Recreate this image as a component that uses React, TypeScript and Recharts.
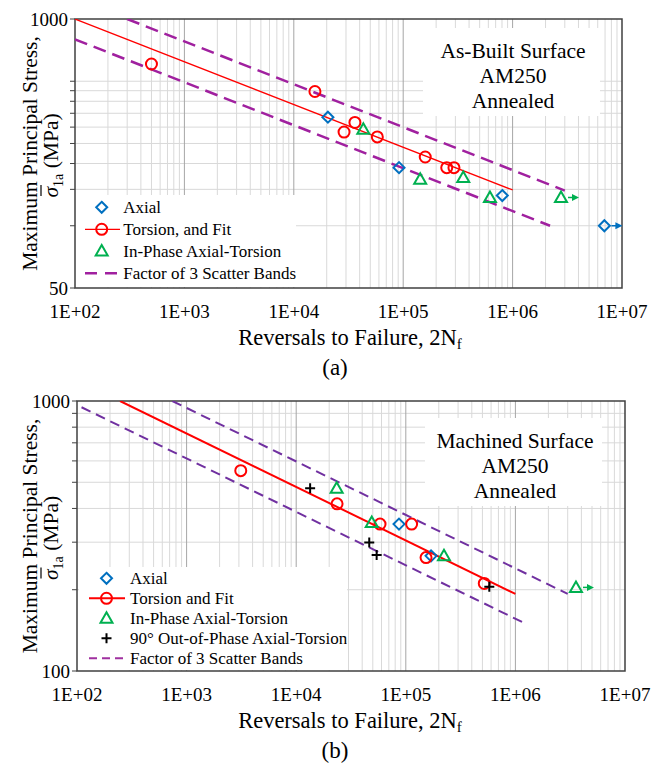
import { ScatterChart, Scatter, XAxis, YAxis, CartesianGrid, ReferenceArea } from "recharts";

const FONT = '"Liberation Serif", "Times New Roman", serif';
const BLUE = "#0070C0";
const RED = "#FF0000";
const GREEN = "#00B050";
const BAND_A = "#A0209F";
const BAND_B = "#7030A0";

// x axis (same for both panels)
const xTicks = [1e2, 1e3, 1e4, 1e5, 1e6, 1e7];
const xTickLabels = ["1E+02", "1E+03", "1E+04", "1E+05", "1E+06", "1E+07"];
const decades = [1e2, 1e3, 1e4, 1e5, 1e6];
const minorSteps = [2, 3, 4, 5, 6, 7, 8, 9];
const xMajorGrid = [1e3, 1e4, 1e5, 1e6];
const xMinorGrid = decades.flatMap((d) => minorSteps.map((m) => m * d));

// (a) as-built surface
const yLabelsA = [50, 1000];
const yGridA = [100, 150, 200, 250, 300, 350, 400, 450, 500];
const axialA = [
  { x: 20500, y: 335 },
  { x: 91600, y: 191 },
  { x: 805000, y: 140 },
];
const axialRunoutA = [{ x: 6.9e6, y: 100 }];
const torsionA = [
  { x: 500, y: 606 },
  { x: 15600, y: 446 },
  { x: 28800, y: 284 },
  { x: 36200, y: 316 },
  { x: 58000, y: 269 },
  { x: 159000, y: 215 },
  { x: 250000, y: 191 },
  { x: 291000, y: 191 },
];
const inPhaseA = [
  { x: 43200, y: 293 },
  { x: 143000, y: 168 },
  { x: 354000, y: 171 },
  { x: 621000, y: 137 },
];
const inPhaseRunoutA = [{ x: 2.77e6, y: 137 }];
const fitA = [
  { x: 100, y: 1000 },
  { x: 1e6, y: 149 },
];
const upperA = [
  { x: 300, y: 1000 },
  { x: 3e6, y: 148 },
];
const lowerA = [
  { x: 100, y: 797 },
  { x: 2.2e6, y: 100 },
];

// (b) machined surface
const yLabelsB = [100, 1000];
const yGridB = [200, 300, 400, 500, 600, 700, 800, 900];
const axialB = [
  { x: 86700, y: 350 },
  { x: 170000, y: 267 },
];
const torsionB = [
  { x: 3120, y: 552 },
  { x: 23600, y: 416 },
  { x: 58200, y: 350 },
  { x: 113000, y: 350 },
  { x: 153000, y: 263 },
  { x: 520000, y: 211 },
];
const inPhaseB = [
  { x: 23400, y: 475 },
  { x: 48900, y: 355 },
  { x: 223000, y: 267 },
];
const inPhaseRunoutB = [{ x: 3.57e6, y: 204 }];
const outPhaseB = [
  { x: 13400, y: 475 },
  { x: 46400, y: 299 },
  { x: 54200, y: 269 },
  { x: 578000, y: 205 },
];
const fitB = [
  { x: 247, y: 1000 },
  { x: 1e6, y: 193 },
];
const upperB = [
  { x: 741, y: 1000 },
  { x: 3e6, y: 193 },
];
const lowerB = [
  { x: 110, y: 948 },
  { x: 1.27e6, y: 149 },
];

const Arrow = ({ cx, cy, color }: any) => (
  <g>
    <line x1={cx + 7} y1={cy} x2={cx + 12} y2={cy} stroke={color} strokeWidth={1.5} />
    <path d={`M${cx + 18},${cy}L${cx + 11},${cy - 3.5}L${cx + 11},${cy + 3.5}Z`} fill={color} />
  </g>
);

const Diamond = ({ cx, cy, runout }: any) => (
  <g>
    <path
      d={`M${cx},${cy - 5.5}L${cx + 5.5},${cy}L${cx},${cy + 5.5}L${cx - 5.5},${cy}Z`}
      fill="none"
      stroke={BLUE}
      strokeWidth={2}
    />
    {runout && <Arrow cx={cx} cy={cy} color={BLUE} />}
  </g>
);

const Ring = ({ cx, cy }: any) => (
  <circle cx={cx} cy={cy} r={5.5} fill="none" stroke={RED} strokeWidth={2} />
);

const Tri = ({ cx, cy, runout }: any) => (
  <g>
    <path
      d={`M${cx},${cy - 6}L${cx + 6},${cy + 4.5}L${cx - 6},${cy + 4.5}Z`}
      fill="none"
      stroke={GREEN}
      strokeWidth={2}
    />
    {runout && <Arrow cx={cx} cy={cy} color={GREEN} />}
  </g>
);

const Plus = ({ cx, cy }: any) => (
  <path d={`M${cx - 5},${cy}H${cx + 5}M${cx},${cy - 5}V${cy + 5}`} stroke="#000" strokeWidth={2} />
);

const noDot = () => <g />;

const YTitle = ({ viewBox }: any) => {
  const cy = viewBox.y + viewBox.height / 2;
  return (
    <g fontFamily={FONT} fontSize={21.5} fill="#000">
      <text transform={`rotate(-90 37 ${cy})`} x={37} y={cy} textAnchor="middle">
        Maximum Principal Stress,
      </text>
      {/* second line: sigma-bar with subscript, written bottom-up */}
      <g transform={`translate(58 ${cy + 44}) rotate(-90)`}>
        <text x={0} y={0}>
          <tspan fontStyle="italic">σ</tspan>
          <tspan fontSize={14} dy={5}>1a</tspan>
          <tspan dy={-5}> (MPa)</tspan>
        </text>
        <line x1={1.5} y1={-17} x2={12.5} y2={-17} stroke="#000" strokeWidth={1.2} />
      </g>
    </g>
  );
};

const XTitle = (tag: string) => ({ viewBox }: any) => (
  <g fontFamily={FONT} fill="#000">
    <text x={350} y={viewBox.y + 57} textAnchor="middle" fontSize={22.5}>
      Reversals to Failure, 2N<tspan fontSize={15} dy={4}>f</tspan>
    </text>
    <text x={335} y={viewBox.y + 87} textAnchor="middle" fontSize={23}>
      {tag}
    </text>
  </g>
);

const tickStyle = { fontFamily: FONT, fontSize: 19, fill: "#000" };
const fmtX = (v: number) => xTickLabels[xTicks.indexOf(v)] ?? "";

type PanelProps = {
  top: number;
  height: number;
  marginTop: number;
  marginRight: number;
  yWidth: number;
  yDomain: number[];
  yLabels: number[];
  yGrid: number[];
  tag: string;
  children: any;
};

const Panel = ({ top, height, marginTop, marginRight, yWidth, yDomain, yLabels, yGrid, tag, children }: PanelProps) => (
  <div style={{ position: "absolute", left: 0, top }}>
    <ScatterChart width={660} height={height} margin={{ top: marginTop, right: marginRight, left: 0, bottom: 0 }}>
      <CartesianGrid
        stroke="#D9D9D9"
        strokeWidth={1}
        verticalValues={xMinorGrid}
        horizontalValues={yGrid}
      />
      <CartesianGrid stroke="#A6A6A6" strokeWidth={1} horizontal={false} verticalValues={xMajorGrid} />
      <XAxis
        type="number"
        dataKey="x"
        scale="log"
        domain={[1e2, 1e7]}
        ticks={xTicks}
        interval={0}
        tickFormatter={fmtX}
        tick={tickStyle}
        tickLine={false}
        axisLine={false}
        tickSize={8}
        tickMargin={9}
        height={92}
        allowDataOverflow
        label={XTitle(tag)}
      />
      <YAxis
        type="number"
        dataKey="y"
        scale="log"
        domain={yDomain}
        ticks={[yDomain[0], ...yGrid, yDomain[1]]}
        interval={0}
        tickFormatter={(v: number) => (yLabels.includes(v) ? String(v) : "")}
        tick={tickStyle}
        tickLine={{ stroke: "#404040", strokeWidth: 1 }}
        axisLine={false}
        tickSize={5}
        tickMargin={2}
        width={yWidth}
        allowDataOverflow
        label={YTitle}
      />
      <ReferenceArea
        x1={1e2}
        x2={1e7}
        y1={yDomain[0]}
        y2={yDomain[1]}
        fill="none"
        stroke="#404040"
        strokeWidth={1.5}
        ifOverflow="visible"
      />
      {children}
    </ScatterChart>
  </div>
);

const LegendA = () => (
  <svg style={{ position: "absolute", left: 76, top: 195 }} width={220} height={92}>
    <rect x={0} y={0} width={220} height={92} fill="#fff" />
    <g fontFamily={FONT} fontSize={17} fill="#000">
      <Diamond cx={25.7} cy={12.3} />
      <text x={47.3} y={18}>Axial</text>
      <line x1={9} y1={34.3} x2={44} y2={34.3} stroke={RED} strokeWidth={1.3} />
      <Ring cx={25.7} cy={34.3} />
      <text x={47.3} y={40}>Torsion, and Fit</text>
      <Tri cx={25.7} cy={56} />
      <text x={47.3} y={61.7}>In-Phase Axial-Torsion</text>
      <line x1={9} y1={78.3} x2={44} y2={78.3} stroke={BAND_A} strokeWidth={2.5} strokeDasharray="12 8" />
      <text x={47.3} y={84}>Factor of 3 Scatter Bands</text>
    </g>
  </svg>
);

const LegendB = () => (
  <svg style={{ position: "absolute", left: 78.5, top: 567 }} width={268} height={103}>
    <rect x={0} y={0} width={268} height={103} fill="#fff" />
    <g fontFamily={FONT} fontSize={17} fill="#000">
      <Diamond cx={27.5} cy={11.3} />
      <text x={51} y={17}>Axial</text>
      <line x1={10} y1={31.3} x2={46} y2={31.3} stroke={RED} strokeWidth={2} />
      <Ring cx={27.5} cy={31.3} />
      <text x={51} y={37}>Torsion and Fit</text>
      <Tri cx={27.5} cy={51.3} />
      <text x={51} y={57}>In-Phase Axial-Torsion</text>
      <Plus cx={27.5} cy={71.3} />
      <text x={51} y={77}>90° Out-of-Phase Axial-Torsion</text>
      <line x1={10} y1={91.3} x2={46} y2={91.3} stroke="#A030A0" strokeWidth={2} strokeDasharray="8 5" />
      <text x={51} y={97}>Factor of 3 Scatter Bands</text>
    </g>
  </svg>
);

const Note = ({ left, top, lines }: { left: number; top: number; lines: string[] }) => (
  <svg style={{ position: "absolute", left, top }} width={177} height={88}>
    <rect x={0} y={0} width={177} height={88} fill="#fff" />
    <g fontFamily={FONT} fontSize={21.5} fill="#000" textAnchor="middle">
      {lines.map((t, i) => (
        <text key={t} x={90} y={30 + i * 25}>
          {t}
        </text>
      ))}
    </g>
  </svg>
);

export default function App() {
  return (
    <div style={{ position: "relative", width: 660, height: 763, background: "#fff" }}>
      <style>{"body{margin:0}"}</style>
      <Panel
        top={0}
        height={380}
        marginTop={19}
        marginRight={38}
        yWidth={75}
        yDomain={[50, 1000]}
        yLabels={yLabelsA}
        yGrid={yGridA}
        tag="(a)"
      >
        <Scatter data={upperA} line={{ stroke: BAND_A, strokeWidth: 2.5, strokeDasharray: "13 7" }} shape={noDot} isAnimationActive={false} />
        <Scatter data={lowerA} line={{ stroke: BAND_A, strokeWidth: 2.5, strokeDasharray: "13 7" }} shape={noDot} isAnimationActive={false} />
        <Scatter data={fitA} line={{ stroke: RED, strokeWidth: 1.3 }} shape={noDot} isAnimationActive={false} />
        <Scatter data={axialA} shape={(p: any) => <Diamond {...p} />} isAnimationActive={false} />
        <Scatter data={axialRunoutA} shape={(p: any) => <Diamond {...p} runout />} isAnimationActive={false} />
        <Scatter data={torsionA} shape={(p: any) => <Ring {...p} />} isAnimationActive={false} />
        <Scatter data={inPhaseA} shape={(p: any) => <Tri {...p} />} isAnimationActive={false} />
        <Scatter data={inPhaseRunoutA} shape={(p: any) => <Tri {...p} runout />} isAnimationActive={false} />
      </Panel>
      <Panel
        top={380}
        height={383}
        marginTop={21}
        marginRight={35}
        yWidth={77}
        yDomain={[100, 1000]}
        yLabels={yLabelsB}
        yGrid={yGridB}
        tag="(b)"
      >
        <Scatter data={upperB} line={{ stroke: BAND_B, strokeWidth: 2, strokeDasharray: "10 6" }} shape={noDot} isAnimationActive={false} />
        <Scatter data={lowerB} line={{ stroke: BAND_B, strokeWidth: 2, strokeDasharray: "10 6" }} shape={noDot} isAnimationActive={false} />
        <Scatter data={fitB} line={{ stroke: RED, strokeWidth: 2 }} shape={noDot} isAnimationActive={false} />
        <Scatter data={axialB} shape={(p: any) => <Diamond {...p} />} isAnimationActive={false} />
        <Scatter data={torsionB} shape={(p: any) => <Ring {...p} />} isAnimationActive={false} />
        <Scatter data={inPhaseB} shape={(p: any) => <Tri {...p} />} isAnimationActive={false} />
        <Scatter data={inPhaseRunoutB} shape={(p: any) => <Tri {...p} runout />} isAnimationActive={false} />
        <Scatter data={outPhaseB} shape={(p: any) => <Plus {...p} />} isAnimationActive={false} />
      </Panel>
      <LegendA />
      <LegendB />
      <Note left={423} top={28} lines={["As-Built Surface", "AM250", "Annealed"]} />
      <Note left={425} top={418} lines={["Machined Surface", "AM250", "Annealed"]} />
    </div>
  );
}
